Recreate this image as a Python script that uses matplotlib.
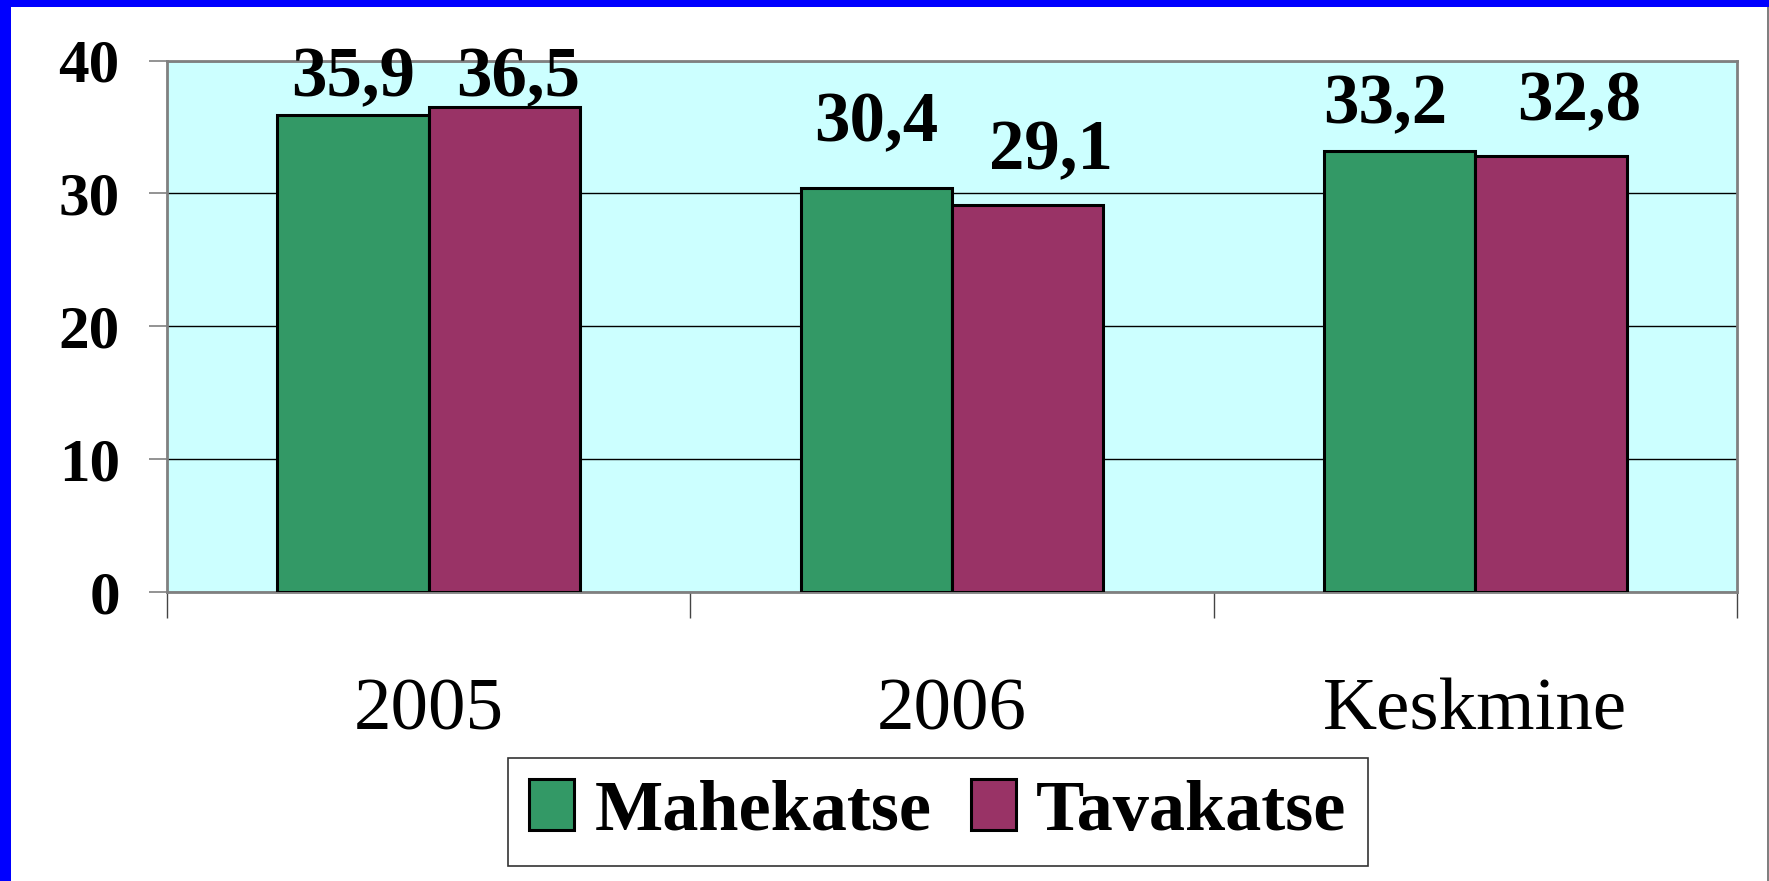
import matplotlib
matplotlib.use('Agg')
import matplotlib.pyplot as plt
from matplotlib.patches import Rectangle, Patch
import numpy as np

categories = ['2005', '2006', 'Keskmine']
series_names = ['Mahekatse', 'Tavakatse']
mahekatse = [35.9, 30.4, 33.2]
tavakatse = [36.5, 29.1, 32.8]
y_ticks = [0, 10, 20, 30, 40]

# data labels were hand-moved in the original chart: (dx in category units, dy in data units)
label_dx = [[0.0, 0.0, -0.028], [0.026, 0.045, 0.054]]
label_dy = [[1.4, 3.5, 2.1], [0.8, 2.7, 2.7]]

GREEN = '#339966'
PURPLE = '#993366'
BG = '#CCFFFF'
SERIF = 'Liberation Serif'


def fmt(v):
    return f'{v:.1f}'.replace('.', ',')


def main():
    fig = plt.figure(figsize=(17.69, 8.81), dpi=100)
    fig.patch.set_facecolor('white')

    # blue frame on top and left edge, thin grey line on the right
    fig.patches.append(Rectangle((0, 1 - 7 / 881), 1, 7 / 881, transform=fig.transFigure,
                                 facecolor='#0000FF', edgecolor='none', zorder=0))
    fig.patches.append(Rectangle((0, 0), 11 / 1769, 1, transform=fig.transFigure,
                                 facecolor='#0000FF', edgecolor='none', zorder=0))
    fig.patches.append(Rectangle((1767 / 1769, 0), 2 / 1769, 1 - 7 / 881, transform=fig.transFigure,
                                 facecolor='#808080', edgecolor='none', zorder=0))

    ax = fig.add_axes([167 / 1769, 1 - 591.5 / 881, (1737 - 167) / 1769, (591.5 - 60.5) / 881])
    ax.set_facecolor(BG)

    x = np.arange(len(categories))
    w = 0.289
    series = [mahekatse, tavakatse]
    colors = [GREEN, PURPLE]
    for i, (vals, col) in enumerate(zip(series, colors)):
        pos = x + (i - 0.5) * w
        ax.bar(pos, vals, width=w, color=col, edgecolor='black', linewidth=2.2, zorder=3,
               label=series_names[i])
        for p, v, dx, dy in zip(pos, vals, label_dx[i], label_dy[i]):
            ax.text(p + dx, v + dy, fmt(v), ha='center', va='baseline', fontsize=51,
                    fontweight='bold', family=SERIF, zorder=4, clip_on=False)

    ax.set_xlim(-0.5, len(categories) - 0.5)
    ax.set_ylim(0, 40)
    ax.set_yticks(y_ticks)
    ax.set_yticklabels([str(t) for t in y_ticks], fontsize=44, fontweight='bold', family=SERIF)
    ax.tick_params(axis='y', length=13, width=1.2, color='#808080', pad=21)
    ax.yaxis.grid(True, color='black', linewidth=1.0, zorder=1)
    ax.set_axisbelow(True)

    ax.set_xticks(np.arange(len(categories) + 1) - 0.5)
    ax.set_xticklabels([])
    ax.tick_params(axis='x', which='major', length=19, width=1.0, color='#444444')
    ax.set_xticks(x, minor=True)
    ax.set_xticklabels(categories, minor=True, fontsize=54, family=SERIF)
    ax.tick_params(axis='x', which='minor', length=0, pad=62)

    for s in ax.spines.values():
        s.set_color('#808080')
        s.set_linewidth(2)

    handles = [Patch(facecolor=c, edgecolor='black', linewidth=2.2) for c in colors]
    leg = fig.legend(handles, series_names, loc='center', bbox_to_anchor=(938 / 1769, 1 - 812 / 881),
                     ncol=2, frameon=True, fancybox=False, prop={'family': SERIF, 'weight': 'bold', 'size': 52},
                     handlelength=0.62, handleheight=0.7, handletextpad=0.28, columnspacing=0.55,
                     borderpad=0.3, borderaxespad=0)
    leg.get_frame().set_edgecolor('black')
    leg.get_frame().set_linewidth(1.2)

    fig.savefig('out.png', dpi=100)
    plt.close(fig)


if __name__ == "__main__":
    main()
